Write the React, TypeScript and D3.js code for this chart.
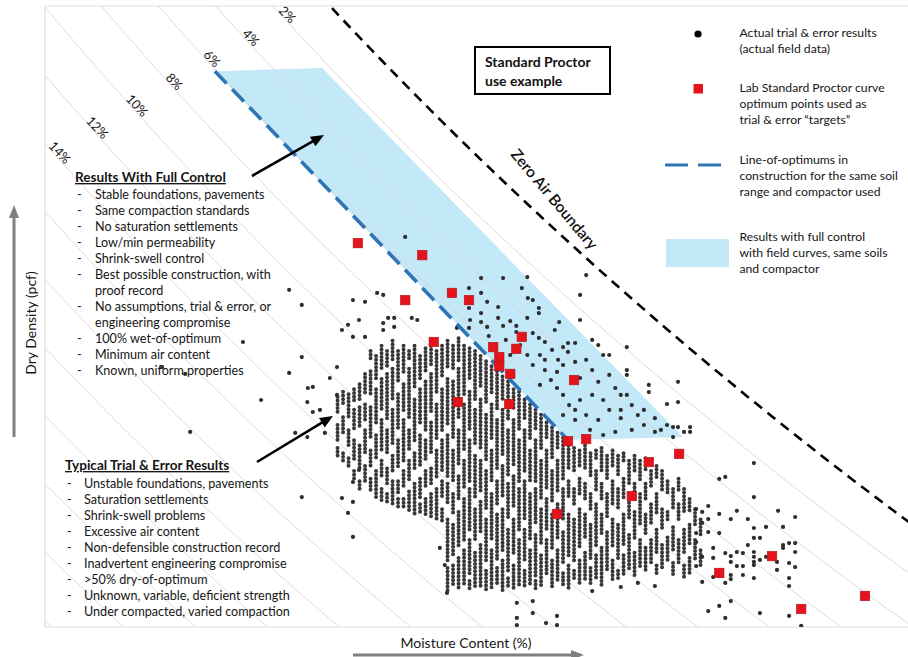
import React from "react";
import * as d3 from "d3";

// ---------- scales (no ticks shown on the original) ----------
const MOISTURE_DOMAIN: [number, number] = [9.781, 25.472]; // moisture content, %
const DENSITY_DOMAIN: [number, number] = [95.695, 120]; // dry density, pcf

// ---------- theoretical air-content curves ----------
const SPECIFIC_GRAVITY = 2.7;
const UNIT_WEIGHT_WATER = 62.4;
const AIR_CONTENTS = [2, 4, 6, 8, 10, 12, 14, 16, 18, 20, 22, 24, 26, 28];
const AIR_LABELS = ["2%", "4%", "6%", "8%", "10%", "12%", "14%"];
const AIR_LABEL_DENSITY = [119.57, 118.67, 117.85, 116.95, 116.01, 115.15, 114.17];

// ---------- field data: dense columns (moisture %, [top, bottom] density runs) ----------
const fieldColumns: [number, number[]][] = [
  [15.1, [104.7, 104.1, 103.6, 103.0, 102.7, 102.3]],
  [15.2, [104.9, 104.4, 103.9, 103.2, 102.5, 102.2]],
  [15.3, [104.8, 103.8, 103.4, 102.8, 102.3, 101.9]],
  [15.4, [105.0, 104.5, 104.2, 103.4, 103.0, 102.2, 101.8, 101.5]],
  [15.5, [105.2, 104.6, 104.3, 103.5, 102.8, 101.8, 101.4, 101.1]],
  [15.6, [105.6, 104.8, 104.4, 103.8, 103.4, 102.4, 102.0, 101.3]],
  [15.7, [106.5, 106.1, 105.7, 104.7, 104.3, 103.0, 102.6, 102.0, 101.5, 101.0]],
  [15.8, [106.3, 105.4, 105.0, 103.6, 103.2, 102.2, 101.8, 100.7]],
  [15.9, [106.7, 105.8, 105.4, 104.2, 103.8, 102.6, 102.2, 101.5, 101.1, 100.6]],
  [16.0, [106.5, 105.9, 105.6, 103.8, 103.4, 102.4, 101.9, 101.3, 100.9, 100.5]],
  [16.1, [106.9, 106.1, 105.8, 104.6, 104.2, 102.8, 102.4, 101.8, 101.4, 100.4]],
  [16.2, [106.5, 105.2, 104.8, 103.4, 103.0, 101.9, 101.4, 100.9, 100.7, 100.3]],
  [16.3, [106.7, 105.6, 105.2, 104.1, 103.8, 102.2, 101.8, 101.1, 100.7, 100.3]],
  [16.4, [106.5, 106.1, 105.8, 103.8, 103.4, 102.6, 102.2, 101.4, 101.0, 100.2]],
  [16.5, [106.7, 105.0, 104.6, 103.0, 102.5, 101.8, 101.3, 100.1]],
  [16.6, [106.3, 105.4, 105.0, 103.6, 103.2, 102.0, 101.5, 100.7, 100.5, 100.1]],
  [16.7, [106.6, 105.7, 105.3, 103.4, 103.0, 102.2, 101.8, 101.1, 100.7, 100.0]],
  [16.8, [106.7, 105.9, 105.6, 104.1, 103.7, 102.4, 101.9, 101.3, 100.9, 99.9]],
  [16.9, [106.5, 104.8, 104.4, 103.0, 102.6, 101.5, 101.1, 99.9]],
  [17.0, [106.7, 105.4, 105.0, 103.4, 103.0, 101.8, 101.4, 100.7, 100.3, 99.8]],
  [17.1, [106.9, 105.8, 105.4, 103.6, 103.2, 101.6, 101.3, 100.5, 99.9, 98.3, 98.0, 97.1]],
  [17.2, [106.7, 105.7, 105.3, 103.0, 102.6, 101.4, 100.9, 100.1, 99.7, 98.5, 98.1, 97.3]],
  [17.3, [107.0, 106.1, 105.8, 103.8, 103.4, 102.0, 101.6, 100.7, 100.2, 98.8, 98.4, 97.2]],
  [17.4, [106.7, 104.8, 104.4, 102.6, 102.2, 101.1, 100.7, 99.1, 98.7, 97.3]],
  [17.5, [106.6, 105.4, 104.9, 103.4, 103.0, 101.4, 101.1, 99.5, 99.1, 97.7, 97.5, 97.1]],
  [17.6, [106.5, 104.6, 104.2, 102.8, 102.4, 100.7, 100.3, 99.1, 98.6, 97.2]],
  [17.7, [106.3, 105.0, 104.6, 102.6, 102.2, 101.0, 100.6, 99.3, 98.9, 97.3]],
  [17.8, [106.1, 104.4, 104.0, 102.2, 101.8, 100.3, 99.9, 98.3, 97.9, 97.1]],
  [17.9, [105.9, 104.8, 104.4, 103.0, 102.6, 101.3, 100.9, 99.1, 98.7, 97.2]],
  [18.0, [105.7, 104.2, 103.8, 101.8, 101.4, 100.5, 100.1, 98.3, 98.0, 97.3]],
  [18.1, [105.5, 104.6, 104.2, 102.4, 102.0, 100.7, 100.3, 98.7, 98.3, 97.1]],
  [18.2, [105.3, 103.8, 103.4, 101.6, 101.3, 99.9, 99.5, 97.9, 97.6, 97.2]],
  [18.3, [105.0, 104.2, 103.8, 102.0, 101.6, 100.3, 99.9, 98.5, 98.1, 97.1]],
  [18.4, [104.9, 103.4, 103.0, 101.4, 101.1, 99.5, 99.1, 97.3]],
  [18.5, [104.6, 103.8, 103.4, 101.8, 101.4, 99.9, 99.5, 98.3, 97.9, 97.2]],
  [18.6, [104.4, 103.0, 102.6, 101.3, 100.9, 99.1, 98.7, 97.3]],
  [18.7, [104.2, 103.4, 103.0, 101.4, 101.1, 99.7, 99.3, 97.7, 97.5, 97.1]],
  [18.8, [104.0, 102.6, 102.2, 100.7, 100.3, 98.9, 98.5, 97.3]],
  [18.9, [103.7, 103.0, 102.6, 101.1, 100.7, 99.5, 99.1, 97.7]],
  [19.0, [103.5, 102.2, 101.8, 100.5, 100.1, 98.7, 98.3, 97.2]],
  [19.1, [103.3, 102.6, 102.2, 100.9, 100.5, 99.1, 98.7, 97.5]],
  [19.2, [103.1, 101.4, 101.1, 99.9, 99.4, 98.1, 97.8, 97.3]],
  [19.3, [102.8, 101.8, 101.4, 100.7, 100.1, 98.5, 98.1, 97.2]],
  [19.4, [102.7, 101.8, 101.1, 100.5, 99.9, 98.3, 97.9, 97.5]],
  [19.5, [102.6, 102.0, 101.5, 100.9, 100.3, 98.8, 98.3, 97.3]],
  [19.6, [102.8, 101.8, 101.3, 100.7, 100.1, 99.1, 98.6, 97.5]],
  [19.7, [102.5, 101.5, 100.9, 100.3, 99.7, 98.3, 98.0, 97.3]],
  [19.8, [102.6, 102.2, 101.8, 101.0, 100.5, 98.9, 98.5, 97.5]],
  [19.9, [102.7, 101.8, 101.3, 100.7, 100.1, 99.3, 98.8, 97.3]],
  [20.0, [102.4, 101.4, 100.9, 99.9, 99.4, 97.9]],
  [20.1, [102.6, 101.9, 101.4, 100.5, 99.9, 98.8, 98.3, 97.5]],
  [20.2, [102.4, 101.6, 101.1, 100.3, 99.7, 98.3, 97.9, 97.5]],
  [20.3, [102.5, 102.2, 101.5, 100.7, 100.1, 98.9, 98.5, 97.7]],
  [20.4, [102.2, 101.3, 100.7, 99.9, 99.3, 97.9]],
  [20.5, [102.4, 101.8, 101.3, 100.9, 100.2, 99.1, 98.6, 97.7]],
  [20.6, [102.2, 101.4, 100.9, 99.7, 99.1, 98.0]],
  [20.7, [102.3, 101.8, 101.3, 100.7, 100.1, 99.3, 98.8, 97.8]],
  [20.8, [101.8, 101.1, 100.5, 99.7, 99.1, 98.1]],
  [20.9, [102.0, 101.5, 100.9, 100.1, 99.5, 98.5, 98.1, 97.7]],
  [21.0, [101.8, 101.0, 100.3, 99.5, 98.9, 97.9]],
  [21.1, [101.4, 100.9, 100.2, 99.8, 99.2, 98.3]],
  [21.2, [101.1, 100.3, 99.6, 98.7, 98.2, 97.7]],
  [21.3, [101.5, 101.0, 100.5, 99.9, 99.1, 98.1]],
  [21.4, [101.1, 100.1, 99.5, 98.5, 98.1, 97.6]],
  [21.5, [100.7, 100.2, 99.7, 98.9, 98.4, 97.7]],
  [21.6, [100.3, 99.7, 99.1, 98.3]],
  [21.7, [99.9, 99.3, 98.7, 98.1]],
];

// ---------- field data: individual scattered results (moisture %, density pcf) ----------
const fieldScatter: [number, number][] = [
  [14.22, 108.89], [14.45, 108.3], [13.38, 106.85], [14.45, 106.26], [14.22, 105.64], [14.96, 105.44],
  [15.09, 105.87], [11.91, 105.87], [12.33, 105.6], [14.56, 105.05], [14.65, 105.09], [14.45, 100.78],
  [12.42, 103.33], [13.71, 104.58], [15.38, 108.49], [15.6, 108.42], [15.82, 108.77], [15.93, 108.69],
  [16.02, 107.79], [16.13, 107.79], [16.45, 107.79], [16.55, 107.71], [15.93, 107.59], [16.13, 107.44],
  [15.93, 107.32], [15.29, 107.52], [15.18, 107.32], [15.49, 107.71], [15.38, 107.05], [15.6, 107.05],
  [14.65, 104.11], [14.78, 104.19], [14.33, 103.29], [14.55, 103.13], [14.87, 103.29], [15.18, 100.74],
  [15.38, 101.37], [15.38, 100.59], [15.29, 100.16], [15.38, 99.22], [15.49, 101.84], [15.09, 104.78],
  [14.55, 104.5], [16.33, 110.96], [16.96, 98.79], [17.05, 98.12],
  [17.09, 97.03], [18.36, 96.64], [18.65, 96.71], [18.36, 96.05], [18.36, 95.77], [18.65, 96.24],
  [18.89, 95.85], [19.09, 96.13], [19.09, 95.77], [19.73, 97.1], [20.25, 97.26], [20.56, 97.42], [20.87, 97.3],
  [17.71, 109.35], [18.11, 109.35], [18.55, 109.39], [17.49, 108.96], [17.71, 108.77], [18.45, 108.96],
  [18.56, 108.57], [18.65, 108.49], [17.82, 108.42], [17.49, 108.18], [18.02, 108.22], [18.76, 108.18],
  [18.76, 107.98], [17.71, 107.98], [17.51, 107.71], [18.24, 107.67], [17.27, 107.4], [17.49, 107.4],
  [17.71, 107.63], [17.82, 107.44], [18.11, 107.48], [18.35, 107.48], [18.35, 107.24], [19.05, 107.32],
  [19.13, 107.63], [18.65, 107.2], [18.76, 107.01], [18.87, 106.85], [19.62, 109.47], [19.51, 108.69],
  [19.51, 107.71], [19.73, 106.93], [19.84, 106.73], [20.36, 106.65], [19.93, 106.34], [20.04, 106.34],
  [20.36, 105.75], [20.36, 105.56], [20.76, 105.17], [20.76, 104.89], [21.29, 105.29], [21.09, 104.42],
  [21.29, 104.5], [21.2, 103.52], [21.29, 103.52], [21.4, 103.33], [21.51, 103.52], [21.51, 103.33],
  [21.2, 103.13], [19.2, 106.65], [19.29, 106.81], [19.42, 106.81], [19.29, 106.46], [19.0, 106.54],
  [19.11, 106.15], [19.2, 105.95], [19.42, 106.07], [19.62, 106.15], [19.73, 105.75], [19.51, 105.44],
  [19.84, 105.29], [20.04, 105.56], [20.15, 105.05], [20.25, 104.78], [19.93, 104.58], [19.73, 104.78],
  [19.51, 104.58], [19.42, 104.19], [19.62, 103.99], [19.84, 103.8], [20.04, 104.19], [20.25, 103.87],
  [20.45, 104.38], [20.56, 103.99], [20.67, 103.6], [20.87, 103.87], [20.98, 103.41], [20.45, 103.41],
  [20.15, 103.33], [19.93, 103.21], [19.69, 103.41], [18.42, 106.73], [18.55, 106.34], [18.65, 105.95],
  [18.87, 105.75], [18.98, 105.36], [19.09, 105.05], [18.78, 105.17], [19.2, 104.78], [19.31, 104.38],
  [19.42, 103.8], [19.2, 103.99], [18.87, 106.15], [18.16, 106.93], [17.96, 106.73], [18.24, 106.34],
  [17.85, 107.08], [18.02, 107.79], [18.55, 107.79], [18.78, 106.34], [19.09, 105.68], [20.25, 104.19],
  [20.67, 104.19], [20.87, 103.33], [21.09, 103.6], [20.36, 104.78],
  [22.67, 102.11], [22.04, 101.49], [22.15, 101.57], [22.67, 100.78], [23.11, 100.24], [23.42, 100.0],
  [22.36, 100.24], [22.56, 99.92], [22.25, 99.92], [21.84, 100.43], [21.73, 100.2], [21.62, 100.31],
  [22.04, 100.12], [21.84, 99.92], [21.73, 99.77], [22.89, 99.61], [23.2, 99.61], [22.67, 99.57],
  [22.67, 99.18], [22.78, 99.18], [21.62, 99.37], [21.84, 99.41], [22.04, 99.37], [21.62, 99.02],
  [22.56, 98.9], [23.2, 98.9], [23.31, 98.98], [23.42, 98.98], [23.2, 98.79], [23.42, 98.63],
  [21.93, 98.79], [22.15, 98.59], [22.25, 98.47], [22.36, 98.63], [22.47, 98.59], [22.67, 98.63],
  [22.67, 98.44], [22.67, 98.24], [22.67, 98.12], [22.78, 98.32], [22.89, 98.44], [23.09, 98.24],
  [21.93, 98.4], [22.25, 98.24], [22.36, 98.08], [22.47, 98.08], [22.47, 97.73], [22.25, 97.73],
  [22.25, 97.57], [22.15, 97.42], [21.93, 97.65], [21.73, 98.44], [21.73, 97.46], [21.62, 98.08],
  [22.67, 97.61], [23.09, 97.93], [23.31, 98.2], [23.31, 97.61], [23.31, 97.3], [23.42, 98.04],
  [22.25, 96.71], [22.04, 96.52], [21.84, 96.32], [22.15, 96.05], [22.78, 96.24], [23.31, 96.13], [23.53, 95.74],
];

// ---------- lab Standard Proctor optimum points ----------
const proctorOptimums: [number, number][] = [
  [15.47, 110.72], [16.64, 110.25], [16.33, 108.49], [17.18, 108.77], [17.49, 108.49], [16.85, 106.85],
  [17.93, 106.65], [18.45, 107.05], [18.35, 106.58], [18.04, 106.26], [18.04, 105.91], [18.24, 105.6],
  [17.29, 104.5], [18.22, 104.42], [19.4, 105.36], [19.29, 102.97], [19.62, 103.05], [20.76, 102.15],
  [21.31, 102.47], [20.45, 100.82], [19.09, 100.12], [23.0, 98.47], [22.04, 97.81], [23.53, 96.4], [24.69, 96.91],
];

// ---------- line of optimums and full-control zone ----------
const optimumLine: [number, number][] = [[12.87, 117.45], [19.29, 103.01]];
const controlZone: [number, number][] = [[12.87, 117.45], [14.82, 117.57], [21.38, 103.13], [19.29, 103.01]];

// ---------- text ----------
const ZERO_AIR_LABEL = "Zero Air Boundary";
const ZERO_AIR_LABEL_POS: [number, number] = [19.02, 112.4];
const BOX_TEXT = ["Standard Proctor", "use example"];
const FULL_CONTROL_TITLE = "Results With Full Control";
const FULL_CONTROL_ITEMS: [boolean, string][] = [
  [true, "Stable foundations, pavements"],
  [true, "Same compaction standards"],
  [true, "No saturation settlements"],
  [true, "Low/min permeability"],
  [true, "Shrink-swell control"],
  [true, "Best possible construction, with"],
  [false, "proof record"],
  [true, "No assumptions, trial & error, or"],
  [false, "engineering compromise"],
  [true, "100% wet-of-optimum"],
  [true, "Minimum air content"],
  [true, "Known, uniform properties"],
];
const TRIAL_TITLE = "Typical Trial & Error Results";
const TRIAL_ITEMS = [
  "Unstable foundations, pavements",
  "Saturation settlements",
  "Shrink-swell problems",
  "Excessive air content",
  "Non-defensible construction record",
  "Inadvertent engineering compromise",
  ">50% dry-of-optimum",
  "Unknown, variable, deficient strength",
  "Under compacted, varied compaction",
];
const LEGEND_TEXT = [
  ["Actual trial & error results", "(actual field data)"],
  ["Lab Standard Proctor curve", "optimum points used as", "trial & error \u201ctargets\u201d"],
  ["Line-of-optimums in", "construction for the same soil", "range and compactor used"],
  ["Results with full control", "with field curves, same soils", "and compactor"],
];
const X_TITLE = "Moisture Content (%)";
const Y_TITLE = "Dry Density (pcf)";

const FONT = "Lato, 'Open Sans', sans-serif";
const TXT = "#161616";

function Arrow({ x1, y1, x2, y2, color, width, head, headW }: any) {
  const dx = x2 - x1, dy = y2 - y1;
  const L = Math.hypot(dx, dy);
  const ux = dx / L, uy = dy / L;
  const bx = x2 - ux * head, by = y2 - uy * head;
  const px = -uy, py = ux;
  return (
    <g>
      <line x1={x1} y1={y1} x2={bx + ux} y2={by + uy} stroke={color} strokeWidth={width} />
      <polygon
        points={`${x2},${y2} ${bx + (px * headW) / 2},${by + (py * headW) / 2} ${bx - (px * headW) / 2},${by - (py * headW) / 2}`}
        fill={color}
      />
    </g>
  );
}

export default function App() {
  const left = 45, right = 908, top = 6, bottom = 627;
  const x = d3.scaleLinear().domain(MOISTURE_DOMAIN).range([left, right]);
  const y = d3.scaleLinear().domain(DENSITY_DOMAIN).range([bottom, top]);

  const G = SPECIFIC_GRAVITY * UNIT_WEIGHT_WATER;
  const densityAt = (w: number, a: number) => ((1 - a / 100) * G) / (1 + (w / 100) * SPECIFIC_GRAVITY);
  const moistureAt = (d: number, a: number) => ((((1 - a / 100) * G) / d - 1) / SPECIFIC_GRAVITY) * 100;
  const wGrid = d3.range(0, 27.01, 0.1);
  const airPath = (a: number) =>
    d3.line<number>().x((w) => x(w)).y((w) => y(densityAt(w, a)))(wGrid) as string;

  const poly = d3.line<[number, number]>().x((d) => x(d[0])).y((d) => y(d[1]));

  const sq = 9.5;

  return (
    <svg
      width={908}
      height={657}
      style={{ position: "absolute", left: 0, top: 0, background: "#fff" }}
      fontFamily={FONT}
    >
      <defs>
        <clipPath id="plotClip">
          <rect x={left} y={top} width={right - left} height={bottom - top} />
        </clipPath>
      </defs>
      <rect x={0} y={0} width={908} height={657} fill="#fff" />

      {/* frame */}
      <g stroke="#dedede" strokeWidth={1.2} fill="none">
        <line x1={left} y1={top} x2={right} y2={top} />
        <line x1={left} y1={top} x2={left} y2={bottom} />
        <line x1={left} y1={bottom} x2={right} y2={bottom} />
      </g>

      <g clipPath="url(#plotClip)">
        {/* full control zone */}
        <path d={poly(controlZone) + "Z"} fill="#c3e9f8" />

        {/* air content lines */}
        {AIR_CONTENTS.map((a) => (
          <path key={a} d={airPath(a)} fill="none" stroke="#dccfcf" strokeWidth={0.8} />
        ))}

        {/* zero air boundary */}
        <path d={airPath(0)} fill="none" stroke="#000" strokeWidth={2.6} strokeDasharray="10 7" />

        {/* field data columns */}
        <g stroke="#383838" strokeWidth={4} strokeLinecap="round" strokeDasharray="0 3.7">
          {fieldColumns.map(([m, d], i) => {
            const segs = [];
            for (let k = 0; k + 1 < d.length; k += 2) {
              segs.push(<line key={k} x1={x(m)} x2={x(m)} y1={y(d[k])} y2={y(d[k + 1])} />);
            }
            return <g key={i}>{segs}</g>;
          })}
        </g>
        {/* scattered field data */}
        <g fill="#2e2e2e">
          {fieldScatter.map(([m, d], i) => (
            <circle key={i} cx={x(m)} cy={y(d)} r={2.1} />
          ))}
        </g>

        {/* line of optimums */}
        <path d={poly(optimumLine) as string} stroke="#2e75b6" strokeWidth={3.6} strokeDasharray="17 8" fill="none" />

        {/* proctor optimums */}
        <g fill="#e5141c" stroke="#b3151b" strokeWidth={0.6}>
          {proctorOptimums.map(([m, d], i) => (
            <rect key={i} x={x(m) - sq / 2} y={y(d) - sq / 2} width={sq} height={sq} />
          ))}
        </g>
      </g>

      {/* air content labels */}
      {AIR_LABELS.map((t, i) => {
        const a = AIR_CONTENTS[i];
        const d = AIR_LABEL_DENSITY[i];
        const px = x(moistureAt(d, a)) + 2;
        const py = y(d);
        return (
          <text key={t} x={px} y={py} dy={1} transform={`rotate(47 ${px} ${py})`} fontSize={12.8} textAnchor="middle" fill={TXT}>
            {t}
          </text>
        );
      })}

      {/* zero air label */}
      {(() => {
        const px = x(ZERO_AIR_LABEL_POS[0]);
        const py = y(ZERO_AIR_LABEL_POS[1]);
        return (
          <text x={px} y={py} transform={`rotate(50 ${px} ${py})`} fontSize={15.5} fontWeight={600} textAnchor="middle" dominantBaseline="middle" fill="#111">
            {ZERO_AIR_LABEL}
          </text>
        );
      })()}

      {/* standard proctor box */}
      <rect x={475} y={47} width={135} height={47} fill="#fff" stroke="#000" strokeWidth={2} />
      {BOX_TEXT.map((t, i) => (
        <text key={t} x={485} y={67 + i * 18.5} fontSize={14} fontWeight={700} fill="#111">
          {t}
        </text>
      ))}

      {/* legend */}
      <circle cx={698} cy={34} r={3.6} fill="#000" />
      <rect x={693.5} y={84} width={9.5} height={9.5} fill="#e5141c" />
      <line x1={665} y1={165} x2={688} y2={165} stroke="#2e75b6" strokeWidth={3} />
      <line x1={698} y1={165} x2={721} y2={165} stroke="#2e75b6" strokeWidth={3} />
      <rect x={666} y={239} width={63} height={28} fill="#c3e9f8" />
      {LEGEND_TEXT.map((lines, g) =>
        lines.map((t, i) => (
          <text key={g + "-" + i} x={739.5} y={[37, 92, 164, 240.5][g] + i * 16} fontSize={12.2} fill={TXT}>
            {t}
          </text>
        ))
      )}

      {/* results with full control */}
      <text x={75} y={182} fontSize={13.6} fontWeight={700} textDecoration="underline" fill={TXT}>
        {FULL_CONTROL_TITLE}
      </text>
      {FULL_CONTROL_ITEMS.map(([dash, t], i) => (
        <g key={i}>
          {dash && (
            <text x={77} y={199 + i * 16} fontSize={12.6} fill={TXT}>
              -
            </text>
          )}
          <text x={95} y={199 + i * 16} fontSize={12.6} fill={TXT}>
            {t}
          </text>
        </g>
      ))}

      {/* typical trial & error */}
      <text x={65} y={470} fontSize={13.6} fontWeight={700} textDecoration="underline" fill={TXT}>
        {TRIAL_TITLE}
      </text>
      {TRIAL_ITEMS.map((t, i) => (
        <g key={i}>
          <text x={67} y={487.5 + i * 16} fontSize={12.6} fill={TXT}>
            -
          </text>
          <text x={84} y={487.5 + i * 16} fontSize={12.6} fill={TXT}>
            {t}
          </text>
        </g>
      ))}

      {/* annotation arrows */}
      <Arrow x1={252} y1={176} x2={324} y2={135} color="#000" width={2.6} head={13} headW={11} />
      <Arrow x1={257} y1={462} x2={333} y2={416} color="#000" width={2.6} head={13} headW={11} />

      {/* axis titles with arrows */}
      <text x={466} y={648} fontSize={14} textAnchor="middle" fill={TXT}>
        {X_TITLE}
      </text>
      <Arrow x1={353} y1={655} x2={584} y2={655} color="#7f7f7f" width={3} head={13} headW={10} />
      <text x={0} y={0} transform="translate(36 323) rotate(-90)" fontSize={14} textAnchor="middle" fill={TXT}>
        {Y_TITLE}
      </text>
      <Arrow x1={14} y1={437} x2={14} y2={205} color="#7f7f7f" width={3} head={13} headW={10} />
    </svg>
  );
}
